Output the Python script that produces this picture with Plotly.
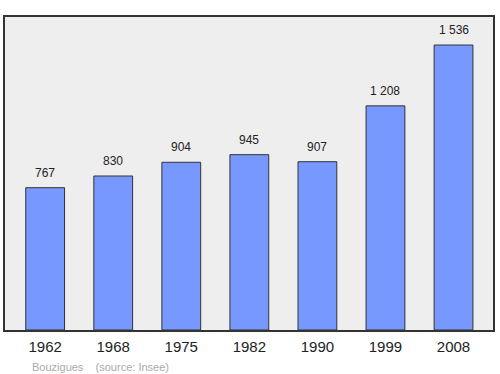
import plotly.graph_objects as go

years = ["1962", "1968", "1975", "1982", "1990", "1999", "2008"]
population = [767, 830, 904, 945, 907, 1208, 1536]
labels = ["767", "830", "904", "945", "907", "1 208", "1 536"]

fig = go.Figure()
fig.add_trace(go.Bar(
    x=list(range(len(years))), y=population, width=0.57,
    marker=dict(color="#7799ff", line=dict(color="#333333", width=1)),
    hoverinfo="skip",
))
for i, (v, t) in enumerate(zip(population, labels)):
    fig.add_annotation(x=i, y=v, text=t, showarrow=False, yanchor="bottom",
                       yshift=6, font=dict(size=12, color="#222222"))
fig.add_annotation(x=0, xref="paper", xshift=25, y=0, yref="paper", yshift=-29,
                   text="Bouzigues&nbsp;&nbsp;&nbsp;&nbsp;(source: Insee)", showarrow=False,
                   xanchor="left", yanchor="top", font=dict(size=11, color="#aaaaaa"))
fig.update_layout(
    width=500, height=374, margin=dict(l=5, r=5, t=17, b=44),
    paper_bgcolor="white", plot_bgcolor="#eeeeee",
    font=dict(family="Liberation Sans, Arial, sans-serif"),
    showlegend=False,
    xaxis=dict(range=[-0.59, 6.58], tickvals=list(range(len(years))), ticktext=years,
               showgrid=False, zeroline=False, showline=True, mirror=True,
               linecolor="#333333", linewidth=1.5, ticks="", ticklabelstandoff=2,
               tickfont=dict(size=15, color="#222222")),
    yaxis=dict(range=[0, 1687], showgrid=False, zeroline=False, showticklabels=False,
               showline=True, mirror=True, linecolor="#333333", linewidth=1.5, ticks=""),
)
fig.write_html("out.html")
